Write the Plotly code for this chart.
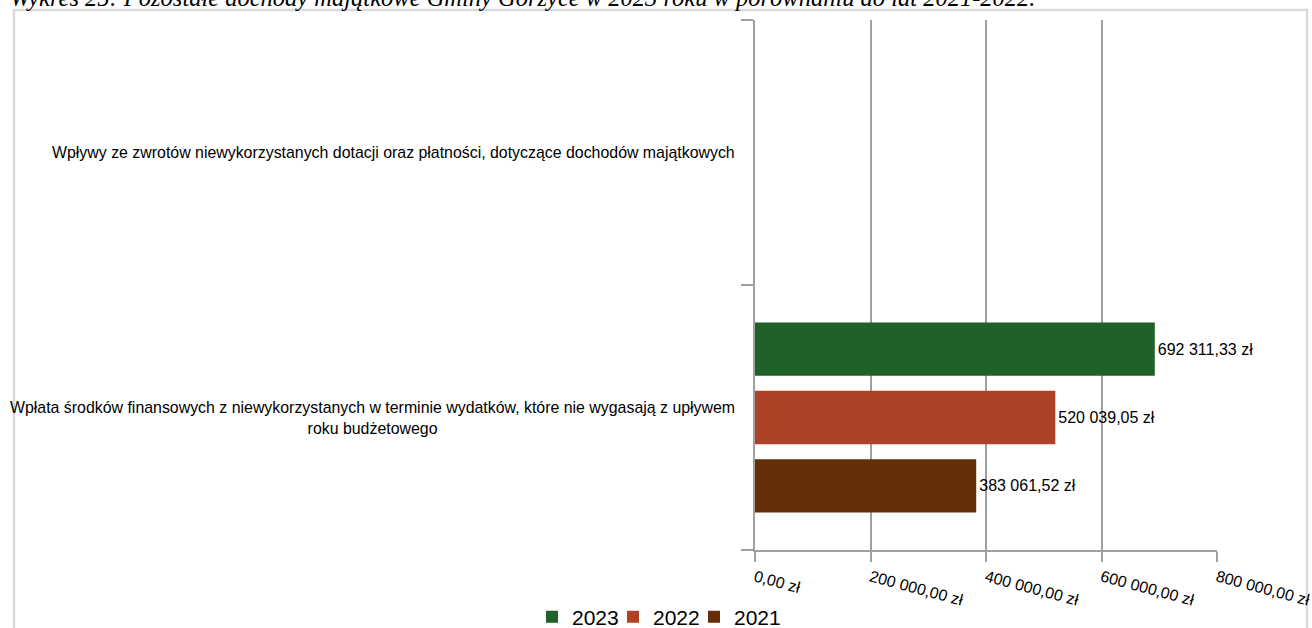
import plotly.graph_objects as go

title_text = "Wykres 25: Pozostałe dochody majątkowe Gminy Gorzyce w 2023 roku w porównaniu do lat 2021-2022."
categories = [
    "Wpłata środków finansowych z niewykorzystanych w terminie wydatków, które nie wygasają z upływem<br>roku budżetowego",
    "Wpływy ze zwrotów niewykorzystanych dotacji oraz płatności, dotyczące dochodów majątkowych",
]
years = ["2021", "2022", "2023"]
values_2021 = [383061.52, None]
values_2022 = [520039.05, None]
values_2023 = [692311.33, None]
colors = {"2021": "#632e08", "2022": "#ae4227", "2023": "#1f6129"}
tick_values = [0, 200000, 400000, 600000, 800000]


def pln(v):
    s = f"{v:,.2f}"
    return s.replace(",", " ").replace(".", ",") + " zł"


W, H = 1320, 650
L, T = 755, 20
PLOT_R, PLOT_B = 1217, 550
R, B = W - PLOT_R, H - PLOT_B
pw = PLOT_R - L
ph = PLOT_B - T


def px(x):
    return (x - L) / pw


def py(y):
    return (PLOT_B - y) / ph


FONT = "Liberation Sans, Arial"

fig = go.Figure()
# invisible spacer legend entry (scatter, so it does not take a bar slot)
fig.add_trace(go.Scatter(x=[None], y=[None], name=" ", mode="markers",
                         marker=dict(color="rgba(0,0,0,0)", size=1, opacity=0,
                                     line=dict(width=0)),
                         hoverinfo="skip", showlegend=True))
series = {"2021": values_2021, "2022": values_2022, "2023": values_2023}
for y in years:
    vals = series[y]
    fig.add_trace(go.Bar(
        y=categories, x=vals, name=y, orientation="h",
        marker=dict(color=colors[y], line=dict(width=0)),
        text=[pln(v) if v is not None else "" for v in vals],
        textposition="outside", cliponaxis=False,
        textfont=dict(family=FONT, size=16, color="#000000"),
    ))

grid_c = "#a0a0a0"
fig.update_layout(
    width=W, height=H,
    margin=dict(l=L, r=R, t=T, b=B, autoexpand=False),
    paper_bgcolor="white", plot_bgcolor="white",
    barmode="group", bargap=0.226, bargroupgap=0.22,
    showlegend=True,
    legend=dict(orientation="h", traceorder="reversed",
                x=px(532), xanchor="left",
                y=py(617), yanchor="middle",
                entrywidth=36, entrywidthmode="pixels",
                font=dict(family=FONT, size=21, color="#000000"),
                bgcolor="rgba(0,0,0,0)"),
    xaxis=dict(range=[0, 800000], tickvals=tick_values,
               ticktext=[pln(v) for v in tick_values],
               tickangle=15, showgrid=True, gridcolor=grid_c, gridwidth=2,
               showline=True, linecolor=grid_c, linewidth=2,
               ticks="outside", ticklen=10, tickcolor=grid_c, tickwidth=2,
               zeroline=False, automargin=False,
               tickfont=dict(family=FONT, size=16, color="#000000")),
    yaxis=dict(type="category", categoryorder="array", categoryarray=categories,
               range=[-0.5, 1.5], showgrid=False, showticklabels=False,
               showline=True, linecolor=grid_c, linewidth=2,
               ticks="outside", tickson="boundaries", ticklen=12,
               tickcolor=grid_c, tickwidth=2, zeroline=False, automargin=False),
    font=dict(family=FONT, color="#000000"),
)

# category labels (centered multi-line, right edge near the axis)
for c in categories:
    fig.add_annotation(x=px(737), xref="paper", y=c, yref="y",
                       text=c, showarrow=False, align="center", xanchor="right",
                       yanchor="middle",
                       font=dict(family=FONT, size=15.9, color="#000000"))

# title, partially cut at the top
fig.add_annotation(x=px(8), xref="paper", xanchor="left",
                   y=py(13), yref="paper", yanchor="bottom",
                   text=title_text, showarrow=False,
                   font=dict(family="Liberation Serif, Times New Roman", size=24.5,
                             color="#000000", style="italic"))

# outer frame
fig.add_shape(type="rect", xref="paper", yref="paper",
              x0=px(14), x1=px(1307), y0=py(700), y1=py(10),
              line=dict(color="#dadada", width=2.5), layer="below")

fig.write_html("out.html", config={"displayModeBar": False},
               post_script="document.body.style.margin='0px';")
